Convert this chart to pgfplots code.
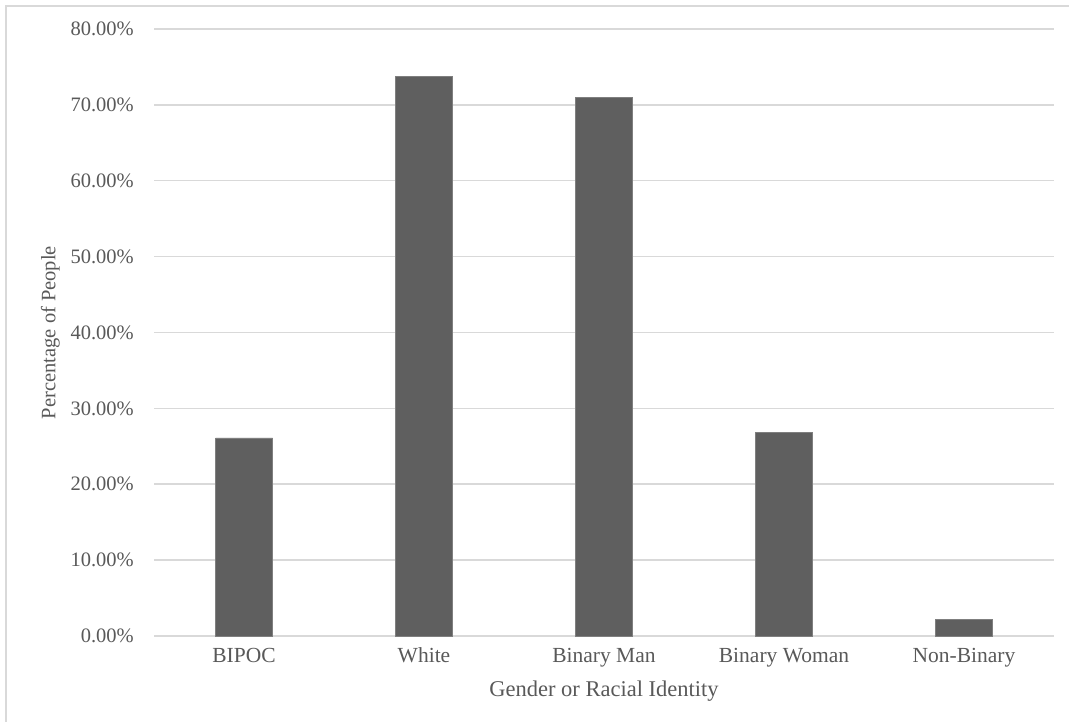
\documentclass[border=0pt]{standalone}
\usepackage{pgfplots}
\pgfplotsset{compat=1.18}
\usepackage{fontspec}
\setmainfont{Liberation Serif}
\definecolor{barfill}{HTML}{5F5F5F}
\definecolor{txt}{HTML}{595959}
\definecolor{gridc}{HTML}{D9D9D9}
\begin{document}
\begin{tikzpicture}[x=1bp,y=1bp]
\useasboundingbox (0,0) rectangle (1069,722);
\fill[white] (0,0) rectangle (1069,722);
% chart frame
\draw[gridc, line width=1.5bp] (6,-20) -- (6,716) -- (1090,716);
\begin{axis}[
  at={(154bp,86bp)}, anchor=south west,
  scale only axis, width=900bp, height=607bp,
  xmin=-0.5, xmax=4.5, ymin=0, ymax=80,
  xtick={0,1,2,3,4},
  xticklabels={BIPOC, White, Binary Man, Binary Woman, Non-Binary},
  ytick={0,10,...,80},
  yticklabel={\pgfmathprintnumber[fixed,fixed zerofill,precision=2]{\tick}\%},
  /pgf/number format/assume math mode=true,
  axis line style={draw=none},
  major tick length=0pt,
  ymajorgrids, grid style={gridc, line width=1.5bp},
  font=\fontsize{20.5bp}{24bp}\selectfont,
  tick label style={txt},
  yticklabel style={anchor=east, inner sep=0pt, xshift=-20bp},
  xticklabel style={anchor=base, inner sep=0pt, yshift=-27bp, font=\fontsize{21.5bp}{24bp}\selectfont},
  xlabel={Gender or Racial Identity},
  ylabel={Percentage of People},
  label style={txt},
  xlabel style={at={(axis description cs:0.5,0)}, anchor=base, inner sep=0pt, yshift=-61bp, font=\fontsize{22.5bp}{26bp}\selectfont},
  ylabel style={at={(axis description cs:0,0.5)}, anchor=south, inner sep=0pt, yshift=94bp},
  clip=false,
]
\addplot[ybar, bar width=57bp, fill=barfill, draw=barfill!80!white, line width=0.6bp]
  coordinates {(0,26.1) (1,73.8) (2,71.0) (3,26.8) (4,2.2)};
\end{axis}
\end{tikzpicture}
\end{document}
